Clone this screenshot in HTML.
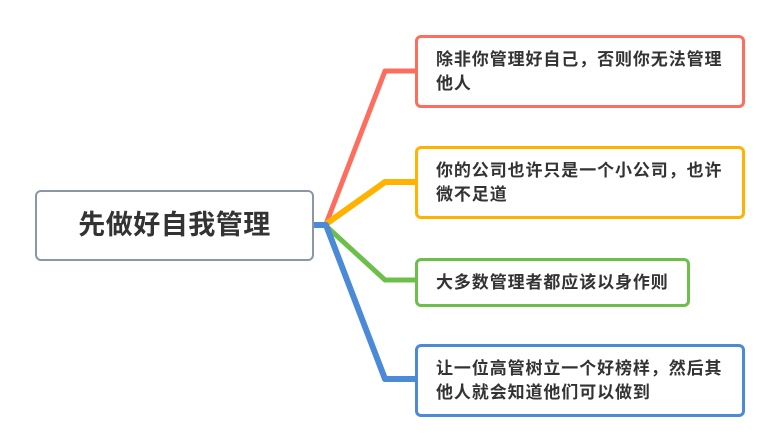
<!DOCTYPE html>
<html><head><meta charset="utf-8"><style>
body{margin:0;width:780px;height:448px;background:#fff;position:relative;overflow:hidden;font-family:"Liberation Sans","Noto Sans CJK SC",sans-serif;}
.b{position:absolute;box-sizing:border-box;border:3px solid;border-radius:6px;background:#fff;font-size:17px;letter-spacing:0.9px;font-weight:bold;color:#333;line-height:24px;padding:10px 0 0 18px;white-space:nowrap;}
</style></head><body>
<svg width="780" height="448" style="position:absolute;left:0;top:0">
<g fill="none" stroke-linejoin="round">
<polyline points="326,224 385,71 416,71" stroke="#fe6e5e" stroke-width="5"/>
<polyline points="326,224 385,182 416,182" stroke="#ffb200" stroke-width="6"/>
<polyline points="326,226 385,280 416,280" stroke="#6cc04a" stroke-width="5"/>
<polyline points="312,225 326,225 385,379 416,379" stroke="#4a8ad6" stroke-width="6"/>
</g></svg>
<div style="position:absolute;left:35px;top:190px;width:279px;height:71px;box-sizing:border-box;border:2px solid #8a97a8;border-radius:6px;background:#fff;font-size:27px;letter-spacing:0.5px;font-weight:bold;color:#333;text-align:center;line-height:67px;">先做好自我管理</div>
<div class="b" style="left:415px;top:35px;width:330px;height:73px;border-color:#fe6e5e">除非你管理好自己，否则你无法管理<br>他人</div>
<div class="b" style="left:415px;top:146px;width:330px;height:73px;border-color:#ffb200">你的公司也许只是一个小公司，也许<br>微不足道</div>
<div class="b" style="left:415px;top:258px;width:275px;height:49px;border-color:#6cc04a;padding-top:10px">大多数管理者都应该以身作则</div>
<div class="b" style="left:415px;top:344px;width:330px;height:73px;border-color:#4a8ad6">让一位高管树立一个好榜样，然后其<br>他人就会知道他们可以做到</div>
</body></html>
